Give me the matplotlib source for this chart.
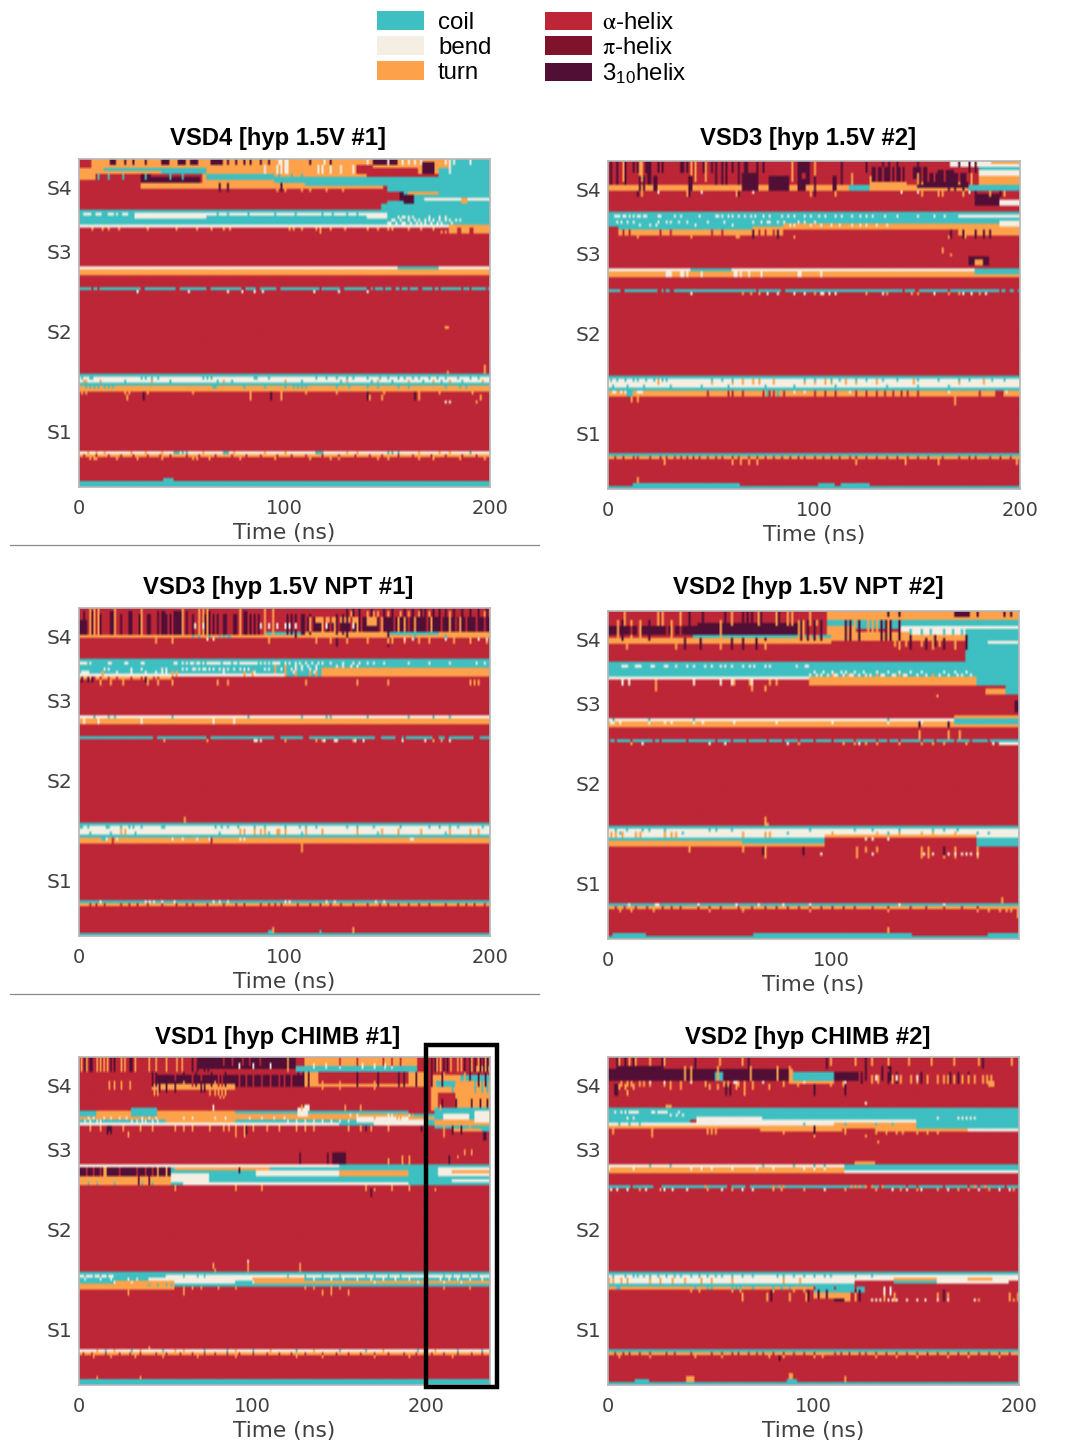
import numpy as np
import matplotlib
matplotlib.use("Agg")
import matplotlib.pyplot as plt
from matplotlib.colors import ListedColormap
from matplotlib.patches import Patch, Rectangle

plt.rcParams["mathtext.fontset"] = "stix"

C, B, T, A, P, H = 0, 1, 2, 3, 4, 5
STATE_LABELS = ["coil", "bend", "turn", r"$\mathrm{\alpha}$-helix", r"$\mathrm{\pi}$-helix", r"3$_{\mathregular{10}}$helix"]
STATE_COLORS = ["#3EBFC1", "#F4EEE3", "#FDA24A", "#BD2636", "#7F132B", "#520F36"]
HELIX_LABELS = ["S4", "S3", "S2", "S1"]
HELIX_ROWS = [9.7, 30.9, 57.7, 91.3]
N_ROWS = 110

TITLES = ["VSD4 [hyp 1.5V #1]", "VSD3 [hyp 1.5V #2]", "VSD3 [hyp 1.5V NPT #1]",
          "VSD2 [hyp 1.5V NPT #2]", "VSD1 [hyp CHIMB #1]", "VSD2 [hyp CHIMB #2]"]
DURATIONS = [200, 200, 200, 184, 237, 200]
XTICKS = [[0, 100, 200], [0, 100, 200], [0, 100, 200], [0, 100], [0, 100, 200], [0, 100, 200]]

# (t0, t1, row0, row1, state); later entries overwrite earlier
P1_BLOCKS = [
    (6, 200, 0, 3, T), (0, 8, 3, 7, T), (8, 30, 4, 5, T), (8, 60, 3, 5, T), (60, 140, 3, 10, T),
    (30, 130, 8, 10, T), (130, 148, 9, 10, T), (12, 50, 3, 4, C), (40, 62, 3, 5, C),
    (62, 95, 5, 7, C), (95, 150, 6, 8, C), (110, 200, 6, 9, C), (150, 200, 8, 17, C),
    (30, 35, 5, 8, H), (34, 43, 6, 8, H), (43, 55, 6, 8, H), (55, 59, 6, 8, H),
    (15, 18, 0, 2, H), (40, 44, 0, 2, H), (48, 52, 0, 2, H), (54, 58, 0, 2, H), (64, 70, 0, 2, H),
    (135, 143, 2, 5, A), (135, 146, 0, 2, T), (143, 155, 0, 2, H),
    (147, 152, 15, 17, C), (148, 152, 11, 14, A), (152, 156, 11, 14, A), (156, 158, 11, 14, H),
    (158, 163, 12, 15, H), (165, 176, 2, 5, T), (167, 173, 1, 5, H),
    (160, 175, 11, 12, T), (168, 200, 13, 14, B), (186, 189, 13, 15, T),
    (175, 200, 3, 6, C), (180, 200, 0, 3, C),
    (0, 200, 17, 23, C), (27, 62, 18, 20, B), (62, 140, 18, 19, B),
    (140, 150, 18, 20, B), (0, 150, 22, 23, B), (150, 200, 22, 23, B),
    (180, 200, 22, 25, T), (184, 186, 23, 25, A), (190, 192, 23, 25, A),
    (0, 200, 36, 37, B), (0, 200, 37, 39, T), (155, 175, 36, 37, C),
    (0, 200, 43, 44, C),
    (0, 200, 72, 73, C), (0, 200, 73, 75, B), (0, 200, 75, 76, C), (0, 200, 76, 78, T),
    (0, 200, 98, 99, B), (0, 200, 99, 100, T),
    (0, 200, 108, 110, C),
]
P1_SPECKS = [
    (A, 43, 44, [6, 9, 30, 31, 47, 48, 62, 63, 79, 80, 86, 87, 96, 97, 117, 127, 128, 140, 141, 143, 148, 152, 153, 156, 160, 165, 166, 172, 175, 186, 190, 198]),
    (B, 44, 45, [28, 53, 72, 79, 85, 89, 114, 126, 140]),
    (B, 18, 19, [2, 3, 4, 5, 8, 9, 10, 14, 15, 16, 18, 21, 22, 23]),
    (B, 19, 20, [155, 157, 158, 160, 162, 170, 175, 178]),
    (B, 20, 21, [152, 153, 156, 160, 163, 165, 168, 170, 172, 175, 178, 180, 183, 185]),
    (B, 21, 22, [150, 151, 154, 157, 158, 161, 164, 166, 168, 171, 174, 176, 181]),
    (C, 18, 19, [67, 72, 82, 95, 105, 118, 123, 130, 135]),
    (A, 99, 100, [2, 8, 14, 20, 26, 33, 39, 44, 52, 58, 66, 74, 81, 88, 96, 103, 110, 118, 126, 134, 141, 147, 155, 162, 171, 178, 186, 193]),
    (T, 100, 101, [5, 7, 8, 18, 28, 40, 55, 57, 63, 78, 95, 112, 122, 126, 145, 150, 165, 172, 185, 197]),
    (C, 98, 99, [46, 47, 48, 50, 52, 70, 71, 72, 115, 116, 117, 118, 150, 152, 155, 190]),
    (T, 98, 99, [4, 8, 12, 25, 32, 40, 60, 75, 90, 100, 130, 135, 165, 175, 180]),
    (C, 73, 74, [1, 5, 6, 30, 32, 35, 38, 60, 62, 64, 85, 86, 92, 115, 120, 125, 130, 133, 140, 146, 150, 155, 158, 162, 165, 170, 174, 178, 184, 190, 194]),
    (C, 74, 75, [3, 22, 44, 67, 74, 108, 127, 142, 152, 167, 176, 186]),
    (T, 74, 75, [2, 3, 10, 35, 70, 100, 130, 145, 160, 172, 180, 196]),
    (C, 76, 77, [3, 5, 7, 9, 12, 14, 16, 65, 66, 80, 90, 100, 104, 106, 108, 110, 125, 131, 140, 145, 155, 160, 178, 185, 188]),
    (T, 78, 79, [1, 3, 22, 24, 33, 55, 83, 93, 98, 110, 125, 140, 148, 165, 175, 191]),
    (T, 79, 81, [23, 83, 98, 141, 147, 165, 195]),
    (H, 78, 81, [31, 93, 140, 163]),
    (T, 71, 72, [179, 197]), (T, 69, 71, [197]), (T, 56, 57, [178, 179]),
    (B, 81, 82, [178, 180]), (T, 81, 82, [193]),
    (C, 107, 108, [41, 42, 43, 44, 45]),
    (T, 23, 24, [6, 11, 14, 19, 33, 47, 57, 64, 70, 73, 102, 104, 108, 115, 117, 122, 129, 140, 145, 150, 152, 160, 166, 172]),
    (T, 24, 25, [117, 176, 178]),
    (H, 8, 11, [68, 72, 98]), (B, 0, 2, [32, 97, 98, 100, 101, 119, 140, 150, 157, 160, 163, 166, 178, 180, 182, 190]),
    (T, 10, 11, [96, 100, 108, 112, 120, 128]),
    (B, 2, 5, [90, 96, 98, 100, 101, 116, 118, 122, 127, 133, 180]),
    (H, 0, 2, [22, 26, 32, 72, 76, 80, 83, 88, 92, 112, 122]),
    (C, 5, 7, [9, 14, 21, 32, 44, 50, 97, 103, 108]),
]

P2_BLOCKS = [
    (0, 117, 8, 10, T), (117, 127, 8, 10, C), (127, 145, 5, 10, T), (145, 180, 8, 10, T),
    (65, 73, 4, 10, H), (78, 88, 5, 10, H), (92, 96, 6, 10, H),
    (128, 145, 2, 7, H), (150, 175, 4, 9, H), (148, 155, 2, 6, H), (160, 168, 3, 8, H),
    (166, 200, 0, 2, B), (186, 200, 0, 1, T), (180, 200, 2, 4, C), (180, 200, 3, 5, B),
    (180, 200, 5, 8, T), (175, 200, 8, 10, C), (178, 190, 11, 15, H), (190, 200, 13, 15, B),
    (0, 200, 17, 23, C), (85, 200, 21, 23, T), (165, 200, 19, 21, C),
    (170, 200, 18, 19, B), (190, 200, 20, 23, B),
    (5, 85, 23, 25, T), (170, 200, 23, 25, T), (70, 200, 22, 23, T),
    (175, 185, 32, 35, H), (178, 182, 33, 35, T),
    (0, 200, 36, 37, B), (0, 200, 37, 39, T), (40, 60, 36, 37, C), (178, 200, 36, 38, C),
    (0, 200, 43, 44, C),
    (0, 200, 72, 73, C), (0, 200, 73, 76, B), (0, 200, 76, 77, C), (0, 200, 77, 79, T),
    (0, 200, 98, 99, C), (0, 200, 99, 100, T),
    (0, 200, 109, 110, C), (12, 64, 108, 109, C), (102, 110, 108, 109, C), (113, 127, 108, 109, C),
]
P2_SPECKS = [
    (H, 0, 8, [1, 4, 8, 19, 20, 52, 55, 57, 63, 66, 67, 92, 93, 96, 97, 113]),
    (H, 0, 4, [12, 14, 16, 18, 24, 26, 35, 36, 38, 46, 50, 60, 72, 75, 94, 95, 100, 125, 133, 136, 140, 150, 170, 175, 178]),
    (T, 0, 7, [7, 15, 16, 40, 42, 47, 89, 100]), (T, 4, 8, [118, 150, 152, 170, 176]),
    (A, 2, 7, [130, 133, 137, 139, 142, 144, 152, 155, 158, 163, 170, 174]),
    (H, 5, 10, [15, 17, 22, 23, 39, 40, 100, 109, 110, 165, 168, 172]),
    (H, 10, 12, [14, 39, 63, 100, 178, 190]), (B, 10, 11, [24, 45, 62, 70, 110, 142, 150, 160, 175]),
    (T, 10, 12, [16, 38, 62, 98, 110, 152, 160, 162, 172, 185, 192]),
    (B, 18, 19, [3, 4, 5, 7, 8, 10, 12, 14, 15, 17, 18, 24, 25, 32, 35, 44, 52, 53, 55, 58, 60, 63, 66, 69, 71, 75, 78, 84, 87, 90, 95, 98, 102, 105, 110, 113, 118, 122, 125, 128, 134, 140, 150, 158, 163]),
    (B, 20, 21, [4, 6, 9, 12, 24, 28, 30, 34, 38, 48, 56, 70, 74, 77, 78, 82, 85, 92, 95, 100]),
    (B, 21, 22, [15, 20, 23, 42, 60, 88, 90, 98, 103, 108, 112, 118, 122, 125, 130, 135]),
    (T, 25, 26, [14, 40, 62, 63, 70, 82, 90, 165, 173]),
    (H, 23, 26, [70, 82, 166, 172, 178, 182, 185]),
    (A, 23, 25, [7, 10, 25, 30, 50, 55, 73, 76, 80, 85]), (A, 22, 23, [0, 1, 2, 3, 4]),
    (T, 29, 31, [162]), (T, 31, 32, [166]),
    (A, 43, 44, [6, 7, 24, 25, 27, 30, 31, 72, 84, 85, 143, 149, 150, 165, 190, 193, 194, 197, 198]),
    (T, 44, 45, [65, 69, 73, 100, 125, 135, 147, 150, 165, 170, 180]),
    (B, 44, 45, [40, 77, 82, 90, 95, 103, 104, 107, 110, 133, 158, 172, 176, 183]),
    (B, 37, 39, [28, 29, 30, 35, 36, 38, 45, 61, 62, 64, 68, 74, 92, 93, 103]),
    (T, 73, 75, [24, 50, 60, 65, 70, 73, 80, 95, 100, 105, 108, 115, 120, 130, 148, 170, 182]),
    (C, 73, 74, [1, 4, 8, 12, 14, 18, 22, 26, 28, 50, 55, 60, 95, 100, 108, 112, 120, 125, 133, 140, 150, 160, 170, 175, 186, 192]),
    (C, 75, 76, [2, 9, 17, 30, 45, 58, 76, 90, 110, 135, 150, 165]),
    (B, 77, 78, [2, 3, 6, 8, 14, 15, 16, 90, 95, 117, 120, 130, 145, 165, 188, 193]),
    (C, 77, 79, [9, 10, 11, 77, 78, 82]), (A, 77, 79, [48, 58, 60, 65, 75, 78, 80, 85, 100, 105, 110, 120, 125, 130, 134, 138, 142, 145, 150, 180, 188, 189, 190, 191]),
    (T, 79, 81, [11, 14, 168]), (T, 79, 82, [168]),
    (A, 99, 100, [3, 7, 12, 14, 20, 25, 28, 32, 35, 38, 41, 44, 48, 52, 55, 60, 63, 68, 72, 76, 80, 84, 88, 92, 95, 100, 104, 108, 112, 117, 120, 125, 130, 135, 140, 145, 150, 155, 162, 170, 175, 178, 185, 190, 195]),
    (T, 100, 102, [27, 60, 64, 68, 72, 120, 144, 160, 198]),
    (T, 107, 108, [14]), (T, 106, 107, [14]),
]

P3_BLOCKS = [
    (0, 90, 9, 10, T), (90, 200, 8, 10, T), (90, 110, 8, 9, C), (150, 175, 8, 9, C),
    (108, 200, 3, 8, H), (0, 4, 4, 9, H),
    (140, 145, 3, 6, T), (115, 135, 3, 5, T),
    (0, 200, 17, 23, C), (0, 100, 22, 23, B),
    (118, 200, 20, 23, T),
    (0, 45, 23, 24, T),
    (0, 200, 36, 37, B), (0, 200, 37, 39, T),
    (0, 200, 43, 44, C),
    (0, 200, 72, 73, C), (0, 200, 73, 76, B), (0, 200, 76, 77, C), (0, 200, 77, 79, T),
    (0, 200, 98, 99, C), (0, 200, 99, 100, T),
    (0, 200, 109, 110, C), (92, 95, 108, 109, C), (117, 118, 108, 109, C),
]
P3_SPECKS = [
    (H, 1, 9, [2, 6, 15, 16, 24, 25, 38, 40, 41, 46, 47, 48, 49, 52, 63, 80, 81]),
    (H, 2, 9, [10, 20, 29, 33, 34, 42, 44, 55, 61, 65, 67, 70, 71, 75, 76, 83, 85, 87, 101, 103, 105, 108, 109, 112, 125, 128, 130]),
    (T, 0, 9, [5, 7, 9, 17, 30, 50, 58, 60, 62, 78, 90, 94]),
    (T, 1, 3, [132, 140, 143, 145, 150, 156, 160, 165, 170, 180, 190, 197]),
    (H, 0, 3, [130, 133, 136, 142, 148, 152, 158, 162, 166, 168, 172, 175, 178, 182, 186, 190, 194, 198]),
    (B, 5, 7, [56, 60, 88, 92, 96, 100, 102, 105, 110, 120, 133]),
    (A, 3, 8, [110, 113, 119, 122, 126, 132, 137, 146, 153, 160, 169, 176, 183, 188, 193, 197]),
    (T, 3, 8, [112, 118, 124, 135, 147, 155, 158, 163, 171, 180, 185]),
    (C, 9, 10, [55, 58, 63, 68, 70, 72, 73, 163, 178]),
    (H, 10, 13, [125, 150]), (T, 10, 12, [37, 45, 92, 115, 122, 130, 140, 150, 152, 158, 165, 170, 182, 190, 198]),
    (B, 10, 11, [62, 65, 158, 162, 178, 194, 198]), (H, 8, 10, [105, 130, 150]),
    (B, 18, 19, [0, 1, 2, 3, 5, 14, 15, 22, 23, 30, 31, 46, 47, 50, 52, 54, 55, 57, 58, 60, 62, 63, 64, 65, 66, 67, 68, 70, 71, 72, 73, 75, 76, 78, 79, 80, 81, 82, 83, 84, 85, 86, 88, 90, 92, 94, 95, 96, 97, 100, 102, 105, 107, 110, 113, 116, 118, 122, 128, 133, 136, 140, 143, 148, 160, 170, 180, 193, 197]),
    (B, 20, 21, [12, 14, 25, 30, 40, 42, 50, 52, 55, 56, 58, 60, 61, 63, 65, 68, 70, 72, 75, 78, 80, 82, 90, 92, 98, 100, 103, 105, 108, 112, 115]),
    (B, 19, 20, [105, 108, 111, 115, 125, 128, 132, 135]),
    (B, 21, 22, [1, 2, 3, 4, 18, 25, 32, 37, 40, 42, 70, 85, 100, 104, 114]),
    (T, 21, 23, [11, 45, 47, 80, 84, 100, 105, 112, 115]), (T, 19, 22, [95, 100]),
    (A, 23, 24, [4, 7, 10, 14, 18, 25, 30, 36, 38]),
    (H, 23, 25, [1, 4, 6, 32]), (T, 24, 26, [10, 15, 21, 33, 38, 45, 67, 72, 110, 135, 150, 190, 192, 194]),
    (B, 37, 39, [2, 9, 30, 65, 75]), (C, 36, 37, [7, 14, 17, 45, 82, 108, 120, 122, 140, 160, 172, 180]),
    (A, 43, 44, [36, 37, 62, 63, 95, 96, 97, 109, 110, 111, 144, 145, 146, 154, 155, 156, 158, 172, 173, 174, 178, 179, 192, 193, 194]),
    (B, 44, 45, [85, 86, 88, 118, 119, 124, 125, 134, 138, 157, 168, 180]),
    (T, 44, 45, [41, 62, 100, 115, 118, 133, 172, 176]),
    (T, 70, 72, [51]),
    (C, 73, 74, [0, 1, 4, 13, 14, 20, 24, 26, 30, 40, 41, 66, 69, 72, 77, 85, 90, 100, 107, 110, 115, 130, 135, 143, 156, 170, 175, 180, 184, 196]),
    (C, 75, 76, [5, 15, 27, 68, 80, 92, 108, 145, 178]),
    (T, 74, 76, [20, 22, 78, 80, 85, 88, 90, 96, 97, 100, 110, 118, 135, 147, 155, 166, 180, 190, 194]),
    (C, 77, 78, [11, 12]), (B, 77, 78, [13, 18, 45, 50, 57, 63, 78, 80, 161, 162]), (A, 77, 79, [16, 64]),
    (T, 79, 82, [108]),
    (A, 99, 100, [5, 8, 12, 20, 24, 28, 33, 40, 47, 52, 55, 62, 70, 76, 80, 88, 92, 95, 98, 106, 112, 117, 122, 127, 133, 140, 146, 150, 155, 160, 165, 170, 178, 184, 188, 192, 197]),
    (B, 98, 99, [10, 32, 34, 36, 40, 46, 65, 68, 72, 100, 102, 120, 124, 144, 148]),
    (T, 107, 109, [94, 133]),
]

P4_BLOCKS = [
    (98, 184, 0, 3, T), (98, 184, 3, 5, C), (100, 184, 5, 6, C), (130, 184, 5, 8, B), (98, 110, 5, 8, T),
    (0, 85, 5, 8, H), (40, 85, 4, 8, H), (0, 100, 9, 11, T), (38, 100, 8, 9, C),
    (100, 135, 7, 10, T), (135, 160, 8, 10, T), (160, 184, 6, 9, C),
    (160, 184, 9, 17, C), (170, 184, 10, 11, B),
    (0, 184, 17, 23, C), (90, 165, 22, 23, T), (0, 90, 22, 23, B),
    (165, 184, 17, 25, C), (178, 184, 25, 28, C), (169, 178, 26, 28, T), (182, 184, 30, 34, H),
    (90, 165, 23, 25, T),
    (0, 184, 36, 37, B), (0, 184, 37, 39, T), (155, 184, 36, 38, C), (155, 184, 35, 36, T),
    (0, 184, 43, 44, C), (175, 184, 44, 45, B),
    (0, 184, 72, 73, C), (0, 184, 73, 76, B), (0, 97, 76, 77, C), (0, 97, 77, 79, T), (60, 97, 77, 78, C),
    (97, 165, 75, 76, T), (165, 184, 76, 79, C),
    (0, 184, 98, 99, C), (0, 184, 99, 100, T),
    (0, 184, 109, 110, C), (2, 17, 108, 109, C), (65, 122, 108, 109, C), (122, 136, 108, 109, C), (170, 184, 108, 109, C),
]
P4_SPECKS = [
    (T, 0, 5, [7, 22, 24, 32, 55, 60, 62, 67, 75, 80, 82, 90]), (H, 0, 5, [36, 42, 52, 60, 62, 64, 68, 76]),
    (T, 3, 9, [4, 10, 14, 18, 28, 50, 85, 87, 90, 93, 110, 116, 118, 120, 125]),
    (H, 3, 10, [6, 18, 86, 89, 92, 95, 106, 108, 112, 122, 124, 126, 130]),
    (A, 5, 8, [10, 13, 26, 29, 32, 90, 93]),
    (H, 9, 13, [34, 41, 55, 60, 66, 70, 135, 142, 150, 160]), (T, 10, 13, [8, 30, 50, 70, 130, 145, 155]),
    (H, 0, 2, [125, 130, 155, 156, 157, 158, 159, 160, 161, 165, 177, 180]),
    (H, 8, 12, [128, 135, 146, 160]),
    (T, 8, 12, [128, 133, 140, 148]),
    (C, 6, 8, [135, 140, 144, 150, 154, 158]),
    (B, 18, 19, [6, 7, 8, 12, 13, 14, 19, 20, 25, 26, 30, 35, 38, 43, 46, 50, 52, 55, 60, 63, 65, 70, 72, 84, 88, 89]),
    (B, 20, 21, [92, 96, 100, 104, 106, 110, 114, 120, 125, 130, 135, 140, 150, 155, 160]),
    (B, 21, 22, [90, 93, 95, 98, 101, 102, 105, 108, 109, 112, 115, 117, 122, 123, 127, 128, 132, 133, 138, 142, 145, 148, 152, 156, 158, 162]),
    (T, 21, 22, [100, 107, 120, 130, 145]),
    (T, 23, 25, [21, 56, 63, 72, 75, 90]), (B, 23, 25, [6, 9, 38, 50, 55, 64]), (T, 25, 27, [21, 64, 70]),
    (T, 28, 29, [147]),
    (A, 43, 44, [0, 3, 10, 20, 23, 35, 48, 55, 62, 71, 78, 85, 92, 100, 110, 120, 125, 130, 140, 146, 155, 162, 170]),
    (T, 44, 45, [10, 85, 105, 110, 115, 120, 130, 140, 145, 150, 160]), (B, 44, 45, [15, 45, 52, 80, 112, 172]),
    (T, 40, 43, [139, 152, 157]), (H, 37, 39, [139, 152]),
    (B, 37, 38, [1, 2, 5, 18, 25, 28, 38, 42, 56, 75, 100, 125, 140]), (C, 36, 37, [2, 18, 38, 125]),
    (T, 71, 72, [70, 71]), (T, 69, 71, [70]),
    (C, 73, 74, [3, 8, 15, 18, 25, 45, 48, 55, 90, 110, 118, 130, 145, 150, 156]),
    (C, 74, 75, [5, 6, 12, 33, 60, 80, 100, 125, 140, 165, 170]),
    (T, 74, 76, [1, 3, 6, 12, 14, 25, 28, 30, 60, 70, 72, 100, 120, 130, 140, 145, 155]),
    (A, 79, 80, [10]), (T, 79, 83, [70, 111, 140, 143, 150, 155, 165]), (H, 79, 82, [69, 87, 150]), (T, 79, 81, [36, 60, 115, 120]),
    (B, 81, 82, [95, 118, 141, 145, 152, 155, 158, 160, 162, 165]), (B, 76, 77, [115, 118, 125]),
    (A, 99, 100, [3, 7, 12, 17, 24, 28, 32, 40, 45, 50, 58, 64, 70, 75, 80, 85, 90, 95, 100, 105, 110, 118, 125, 135, 142, 150, 158, 165]),
    (B, 98, 99, [9, 21, 22, 40, 57, 67, 78, 90, 130, 150]), (T, 100, 101, [5, 10, 20, 45, 60, 90, 125, 165, 170, 175, 178, 180, 183]),
    (T, 96, 98, [176]), (T, 100, 103, [183]), (T, 106, 108, [125]),
]

P5_BLOCKS = [
    (68, 125, 0, 4, H), (130, 195, 0, 3, T), (125, 195, 3, 5, C), (45, 130, 6, 10, H), (42, 90, 9, 11, T),
    (130, 200, 5, 10, T), (138, 190, 5, 9, A), (172, 195, 0, 3, T), (195, 200, 0, 3, A),
    (30, 45, 17, 18, C), (0, 237, 19, 23, C), (0, 237, 20, 21, T), (0, 30, 18, 20, T), (0, 10, 18, 20, C), (30, 45, 18, 20, C),
    (45, 190, 18, 20, T), (90, 190, 18, 19, C), (90, 140, 19, 20, T), (160, 190, 20, 22, B),
    (50, 90, 21, 23, T), (0, 50, 22, 23, B), (50, 150, 22, 23, B), (170, 200, 21, 23, B), (126, 132, 17, 20, B),
    (0, 237, 36, 37, B), (0, 53, 37, 40, H), (0, 53, 40, 43, T), (53, 237, 37, 43, C),
    (53, 75, 39, 42, B), (55, 110, 37, 38, T), (102, 150, 38, 40, B), (150, 237, 36, 37, C),
    (150, 190, 38, 40, T), (60, 190, 42, 43, B), (0, 53, 41, 42, T),
    (0, 237, 72, 73, C), (0, 237, 73, 75, B), (0, 55, 75, 78, T), (0, 20, 75, 76, C), (20, 50, 73, 74, C),
    (55, 237, 75, 77, C), (55, 90, 73, 76, B), (100, 130, 74, 76, T), (130, 237, 74, 75, C), (130, 237, 75, 76, T), (0, 40, 74, 75, C),
    (0, 237, 98, 99, B), (0, 237, 99, 100, T),
    (0, 237, 108, 110, C),
    (200, 237, 0, 2, A), (203, 237, 6, 18, T), (206, 217, 8, 10, C), (207, 217, 12, 17, A), (210, 215, 13, 16, A),
    (220, 237, 6, 8, C), (205, 237, 17, 24, C), (217, 237, 14, 17, T), (228, 237, 3, 5, T), (215, 237, 24, 25, T),
    (232, 237, 24, 25, C), (205, 237, 21, 23, T), (210, 225, 19, 21, B), (228, 237, 18, 22, B),
    (205, 237, 36, 37, C), (207, 237, 37, 40, B), (215, 237, 38, 39, T), (212, 237, 41, 43, C), (215, 237, 41, 42, B),
    (233, 235, 25, 28, H),
]
P5_SPECKS = [
    (H, 0, 5, [3, 6, 7, 18, 20, 29, 30, 65, 68, 72, 74, 203, 205, 210, 212, 222, 225, 228, 231, 233, 235]),
    (T, 0, 5, [1, 4, 10, 12, 14, 16, 24, 26, 32, 40, 44, 50, 56, 59, 120, 206, 208, 214, 218, 220, 226, 230, 234]),
    (B, 2, 4, [92, 100, 110, 135, 142, 150, 163, 170, 176, 180]), (A, 0, 3, [83, 88, 94, 98, 104, 150, 160, 175, 180, 185]),
    (A, 6, 10, [55, 60, 65, 70, 80, 82, 92, 96, 100, 105, 110, 115, 118, 122]),
    (H, 5, 10, [42, 44, 60, 67, 76, 84, 126, 129, 132, 160, 172, 184, 187, 194, 203, 209, 225, 230, 234]),
    (H, 8, 12, [46, 50, 55, 70, 72]), (T, 8, 11, [17, 20, 24, 29, 60, 78, 140, 150, 170, 220, 225]),
    (H, 14, 17, [209, 217, 226, 231, 235]), (T, 11, 13, [78, 80, 82, 84]), (T, 13, 14, [81, 83]),
    (T, 10, 13, [43, 45, 75]),
    (T, 5, 8, [200, 210, 222]), (C, 8, 12, [215, 228, 232, 235]),
    (T, 16, 18, [77, 128, 153, 162, 208]), (B, 16, 18, [77, 130, 131, 132]),
    (B, 19, 20, [156, 160, 178, 180, 183, 190, 200]), (T, 19, 21, [170, 183, 185, 192]),
    (B, 20, 21, [5, 8, 14, 18, 23, 27, 36, 40, 44, 60, 65, 78, 84, 98, 105, 112, 118]),
    (B, 21, 22, [3, 6, 10, 12, 30, 33, 36, 38, 42, 45, 120, 125, 130, 135, 140, 145, 150, 155]),
    (B, 22, 23, [20, 25, 30, 35, 45, 75]),
    (T, 23, 25, [6, 12, 18, 25, 35, 42, 55, 60, 65, 75, 83, 86, 90, 95, 100, 108, 115, 125, 130, 135, 155, 162, 168, 178, 200, 210, 220, 225]),
    (H, 23, 25, [17, 165, 197]),(H, 23, 26, [16, 18, 96, 220, 215]), (T, 25, 27, [28, 90, 95, 200, 210]),
    (T, 31, 33, [222, 226]), (T, 33, 34, [218]), (H, 26, 28, [233]), (T, 34, 36, [127, 178]), (H, 32, 36, [127, 143, 147, 150]),
    (H, 32, 36, [146, 148, 149, 151, 152, 153]), (T, 33, 36, [186, 190]), (H, 33, 36, [213]),
    (A, 37, 40, [4, 8, 12, 23, 33, 38, 42]), (T, 37, 40, [14, 15, 45, 50]), (H, 40, 43, [34, 40]), (C, 42, 43, [5, 10, 20, 36, 42]),
    (T, 43, 45, [55, 90, 105, 165, 180, 190]), (T, 44, 45, [165, 170, 205]), (H, 44, 47, [168]), (H, 37, 39, [92]),
    (T, 71, 72, [78, 97, 127]), (B, 68, 71, [97]), (T, 69, 71, [77, 97, 127]),
    (C, 73, 74, [3, 8, 12, 16, 25, 28, 34, 37, 45, 60, 68, 72, 120, 130, 140, 150, 165, 170, 178, 185, 210, 215, 220, 225, 230]),
    (B, 74, 75, [3, 12, 18, 28, 33, 135, 145, 152, 160, 168, 175, 182, 190, 200, 208, 213, 218, 225, 232]),
    (B, 75, 76, [20, 30, 60, 70, 75, 100, 170, 195, 200, 210, 220]),
    (T, 77, 78, [60, 65, 70, 80, 90, 130, 135, 145, 150, 210, 225]), (T, 78, 80, [28, 60, 140, 145, 155]),
    (C, 76, 77, [40, 45, 50, 53]),
    (A, 99, 100, [2, 7, 15, 23, 29, 35, 44, 50, 58, 65, 72, 78, 85, 92, 100, 108, 115, 122, 130, 140, 148, 155, 162, 170, 178, 187, 194, 203, 210, 218, 226, 232]),
    (C, 98, 99, [15, 30, 48, 72, 85, 100, 125, 150, 165, 195, 218, 232]), (T, 98, 99, [10, 20, 35, 55, 60, 90, 110, 135, 175, 205]),
    (T, 100, 101, [8, 18, 32, 48, 68, 90, 125, 140, 170, 190, 215]), (T, 97, 98, [40]),
    (T, 107, 108, [10, 35]),
]

P6_BLOCKS = [
    (0, 90, 4, 8, H), (6, 27, 3, 8, H), (52, 56, 5, 8, C), (88, 110, 5, 8, C), (110, 122, 5, 8, H),
    (90, 110, 8, 9, T), (122, 125, 6, 9, A), (88, 90, 4, 9, T), (185, 188, 8, 10, T),
    (0, 200, 17, 21, C), (0, 110, 22, 23, B), (0, 40, 21, 22, C), (43, 75, 20, 22, B), (75, 150, 21, 23, B),
    (150, 200, 21, 24, C), (90, 150, 20, 21, C), (45, 75, 23, 24, T), (74, 114, 23, 25, T), (130, 180, 24, 25, T),
    (175, 200, 24, 25, B), (110, 150, 22, 24, T), (0, 115, 23, 24, T),
    (0, 115, 36, 37, B), (0, 115, 37, 39, T), (115, 200, 36, 38, C), (115, 200, 38, 39, B),
    (120, 130, 35, 36, T),
    (0, 200, 43, 44, C),
    (0, 200, 72, 73, C), (0, 200, 73, 75, B), (0, 120, 75, 76, B), (0, 120, 76, 77, C), (0, 100, 77, 78, T),
    (100, 125, 77, 79, C), (108, 125, 79, 80, A), (160, 195, 75, 76, B), (139, 160, 74, 75, T), (139, 160, 75, 76, C),
    (175, 187, 74, 75, T), (128, 140, 78, 79, A),
    (110, 115, 80, 82, H), (115, 118, 79, 82, T), (100, 115, 79, 81, T),
    (0, 200, 98, 99, C), (0, 200, 99, 100, T),
    (0, 200, 109, 110, C), (13, 20, 108, 109, C), (38, 42, 107, 109, T), (87, 92, 108, 110, C), (88, 90, 106, 108, T),
]
P6_SPECKS = [
    (H, 0, 4, [4, 5, 8, 12, 26, 42, 68, 106, 125, 136, 182]), (T, 0, 3, [5, 10, 13, 20, 27, 54, 65, 108, 120, 128, 136, 146, 157, 168, 180, 196]),
    (T, 3, 8, [37, 40, 53, 69, 82, 88]), (H, 3, 8, [125, 133, 137]),
    (H, 5, 9, [123, 136, 140, 152, 166, 170, 175]), (T, 6, 9, [128, 131, 138, 142, 147, 150, 155, 160, 163, 165, 168, 172, 175, 178, 182, 184, 186]),
    (B, 6, 8, [130, 140, 150]), (T, 8, 10, [6, 9, 11, 15, 17, 20, 27, 30, 35, 47, 56, 58, 63, 66, 70, 85, 92, 100, 108, 114]),
    (B, 8, 9, [20, 27, 40, 61, 62, 75, 95, 115]), (T, 9, 11, [5, 8, 12, 30, 35, 49, 53, 62, 66, 70, 78, 100, 115]), (H, 9, 13, [3, 4, 57, 59, 100, 115]),
    (T, 11, 13, [9, 66]), (T, 16, 17, [28, 29, 30]), (B, 15, 16, [125]),
    (B, 18, 19, [3, 6, 8, 10, 11, 12, 13, 14, 21, 22, 24, 25, 26, 27, 28, 34]), (B, 19, 20, [30, 33, 36]),
    (B, 20, 21, [9, 12, 160, 170, 172, 174, 176, 178]), (C, 22, 23, [5, 10, 15, 95, 115, 130, 138]),
    (T, 24, 26, [2, 21, 48, 50, 52, 85, 100, 115, 130, 135, 140, 143, 150, 155, 160]), (T, 26, 27, [21, 100, 125]), (H, 23, 26, [100]),
    (B, 37, 38, [0, 12, 40, 45, 50, 60, 72, 80, 95, 100, 105]), (C, 36, 37, [20, 30, 75, 90, 100, 105]),
    (T, 28, 29, [131]),
    (A, 43, 44, [11, 22, 23, 24, 25, 58, 59, 67, 68, 126, 127, 128, 132, 145, 150, 163, 175, 180, 193]),
    (T, 44, 45, [15, 25, 48, 60, 80, 84, 95, 115, 130, 142, 150, 160, 170, 175, 185, 197]), (B, 44, 45, [1, 4, 9, 18, 27, 31, 38, 55, 65, 70, 105, 138, 145, 152, 165, 180, 190, 195]),
    (T, 43, 44, [47, 80, 83, 85, 118, 120, 122, 125, 128, 133, 178, 183]),
    (C, 73, 74, [2, 8, 12, 14, 17, 20, 24, 28, 32, 35, 40, 44, 48, 52, 55, 60, 65, 70, 82, 85, 90, 95, 100, 105, 108, 120, 128]),
    (T, 74, 76, [0, 2, 6, 9, 20, 25, 31, 37, 45, 50, 60, 85, 93]), (C, 77, 78, [4, 5, 42, 48, 50, 60, 62, 64, 70, 80, 84, 88]),
    (T, 78, 79, [40, 44, 60, 64, 80, 90, 95, 97]), (H, 78, 82, [79, 97, 122, 163]), (H, 78, 81, [102, 106, 120]),
    (A, 77, 78, [100, 110, 120, 125]),
    (T, 79, 82, [65, 77, 88, 96, 120, 134, 139, 160, 165, 195, 199]), (B, 77, 80, [134, 137]),
    (B, 81, 82, [128, 130, 132, 136, 138, 140, 145, 150, 154, 160, 165, 178]), (T, 81, 82, [180, 197]),
    (A, 99, 100, [3, 7, 10, 15, 20, 28, 32, 40, 50, 55, 60, 63, 68, 72, 75, 80, 85, 90, 95, 100, 110, 113, 117, 122, 125, 130, 135, 140, 145, 150, 155, 160, 165, 170, 175, 180, 185, 190, 195]),
    (T, 100, 101, [5, 20, 42, 55, 78, 85, 100, 104, 130, 140, 150, 165, 175, 190]), (H, 100, 102, [83]),
    (T, 107, 109, [115]),
]

BLOCKS = [P1_BLOCKS, P2_BLOCKS, P3_BLOCKS, P4_BLOCKS, P5_BLOCKS, P6_BLOCKS]
SPECKS = [P1_SPECKS, P2_SPECKS, P3_SPECKS, P4_SPECKS, P5_SPECKS, P6_SPECKS]

# layout in reference pixels: left, right, top, bottom
W, H_PX = 1067, 1443
AXES_PX = [(79, 490, 159, 487), (608, 1020, 161, 489), (79, 490, 608, 936),
           (608, 1019, 611, 939), (79, 490, 1057, 1385), (608, 1019, 1057, 1385)]
TITLE_PX = [(278, 145), (808, 145), (278, 594), (808, 594), (278, 1044), (808, 1044)]

fig = plt.figure(figsize=(W / 100, H_PX / 100), dpi=100)
cmap = ListedColormap(STATE_COLORS)
TEXT_GRAY = "#404040"

for i, (l, r, t, b) in enumerate(AXES_PX):
    ax = fig.add_axes([l / W, 1 - b / H_PX, (r - l) / W, (b - t) / H_PX])
    dur = DURATIONS[i]
    grid = np.full((N_ROWS, dur), A, dtype=int)
    for t0, t1, r0, r1, s in BLOCKS[i]:
        grid[r0:r1, t0:t1] = s
    for s, r0, r1, times in SPECKS[i]:
        for tm in times:
            if tm < dur:
                grid[r0:r1, tm] = s
    ax.imshow(grid, cmap=cmap, vmin=-0.5, vmax=5.5, aspect="auto", interpolation="bilinear",
              interpolation_stage="rgba", extent=(0, dur, N_ROWS, 0))
    ax.set_xticks(XTICKS[i])
    ax.set_yticks(HELIX_ROWS, HELIX_LABELS)
    ax.tick_params(axis="x", length=0, labelsize=14, labelcolor=TEXT_GRAY, pad=8.5)
    ax.tick_params(axis="y", length=0, labelsize=14.5, labelcolor=TEXT_GRAY, pad=5)
    ax.set_xlabel("Time (ns)", fontsize=15.7, color=TEXT_GRAY, labelpad=3.8)
    for sp in ax.spines.values():
        sp.set_color("#b5b5b5")
        sp.set_linewidth(1.2)
    tx, ty = TITLE_PX[i]
    fig.text(tx / W, 1 - ty / H_PX, TITLES[i], ha="center", va="baseline",
             fontsize=17.2, fontweight="bold", family="Liberation Sans", color="black")

for y in (545, 994):
    fig.add_artist(plt.Line2D([10 / W, 539 / W], [1 - y / H_PX] * 2, color="#8a8a8a", lw=0.9))

fig.add_artist(Rectangle((426 / W, 1 - 1387 / H_PX), 71 / W, 342 / H_PX, transform=fig.transFigure,
                         fill=False, edgecolor="black", lw=3.2, joinstyle="miter", zorder=10))

handles = [Patch(facecolor=c, edgecolor="none", label=s) for c, s in zip(STATE_COLORS, STATE_LABELS)]
LEGEND_KW = dict(loc="upper left", frameon=False, borderaxespad=0, borderpad=0,
                 prop={"family": "Liberation Sans", "size": 17.3}, handlelength=1.94, handleheight=0.8,
                 labelspacing=0.1)
fig.legend(handles=handles[:3], bbox_to_anchor=(377 / W, 1 - 11.5 / H_PX), handletextpad=0.6, **LEGEND_KW)
fig.legend(handles=handles[3:], bbox_to_anchor=(545 / W, 1 - 11.5 / H_PX), handletextpad=0.42, **LEGEND_KW)

fig.savefig("out.png", dpi=100)
